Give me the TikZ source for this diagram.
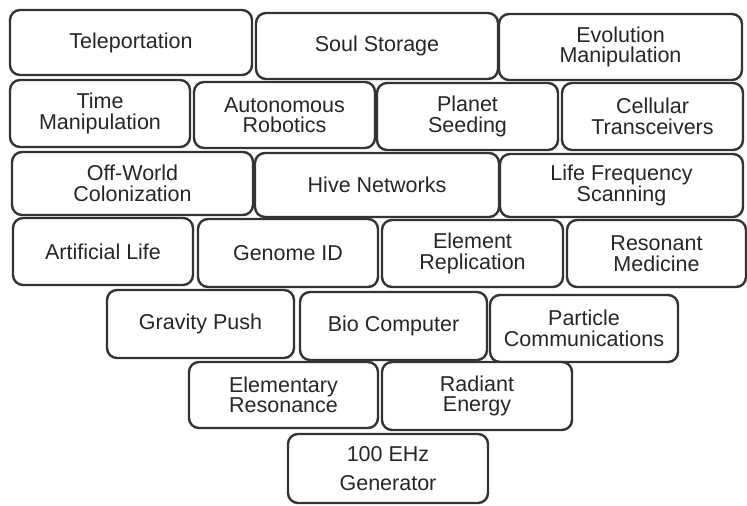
\documentclass[tikz,border=0pt]{standalone}
\usepackage{fontspec}
\setmainfont{Liberation Sans}
\begin{document}
\begin{tikzpicture}[x=1pt, y=-1pt, tech box/.style={rectangle,rounded corners=10pt,draw=black!80,line width=2.4pt,fill=white,text=black!85,align=center,inner sep=0pt}]
\useasboundingbox (0,0) rectangle (747,506);
\begin{scope}[every node/.style={tech box,font=\fontsize{21.5}{20.5}\selectfont}]
\node [minimum width=242,minimum height=65](tele) at (131,42.5) {Teleportation};
\node [minimum width=242,minimum height=66](soul) at (377,46) {Soul Storage};
\node [minimum width=243,minimum height=66](evo) at (620.5,47) {Evolution\\Manipulation};
\node [minimum width=180,minimum height=67](time) at (100,113.5) {Time\\Manipulation};
\node [minimum width=181,minimum height=66](robot) at (284.5,115) {Autonomous\\Robotics};
\node [minimum width=181,minimum height=67](seed) at (467.5,116.5) {Planet\\Seeding};
\node [minimum width=181,minimum height=67](cell) at (652.5,116.5) {Cellular\\Transceivers};
\node [minimum width=241,minimum height=63](colony) at (132.5,183.5) {Off-World\\Colonization};
\node [minimum width=244,minimum height=64](hive) at (377,185) {Hive Networks};
\node [minimum width=243,minimum height=63](scan) at (621.5,185.5) {Life Frequency\\Scanning};
\node [minimum width=180,minimum height=67](alife) at (103,251.5) {Artificial Life};
\node [minimum width=180,minimum height=68](genome) at (288,253) {Genome ID};
\node [minimum width=181,minimum height=67](repl) at (472.5,253.5) {Element\\Replication};
\node [minimum width=179,minimum height=67](medic) at (656.5,253.5) {Resonant\\Medicine};
\node [minimum width=187,minimum height=68](grav) at (200.5,324) {Gravity Push};
\node [minimum width=187,minimum height=68](bio) at (393.5,326) {Bio Computer};
\node [minimum width=188,minimum height=67](comm) at (584,328.5) {Particle\\Communications};
\node [minimum width=189,minimum height=66](reso) at (283.5,395) {Elementary\\Resonance};
\node [minimum width=190,minimum height=68](energy) at (477,396) {Radiant\\Energy};
\node [minimum width=200,minimum height=69](gen) at (388,468.5) {100 EHz\\[9pt]Generator};
\end{scope}
\end{tikzpicture}
\end{document}
